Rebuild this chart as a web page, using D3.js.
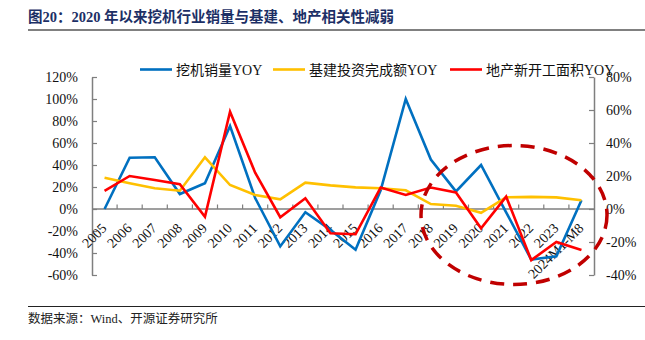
<!DOCTYPE html>
<html><head><meta charset="utf-8">
<script src="https://cdn.jsdelivr.net/npm/d3@7"></script>
<style>
body{margin:0;background:#fff;}
svg{display:block;}
text{font-family:"Liberation Serif","Noto Sans CJK SC",serif;}
</style></head>
<body><svg id="c" width="645" height="340"></svg>
<script>
const categories = ["2005","2006","2007","2008","2009","2010","2011","2012","2013","2014","2015","2016","2017","2018","2019","2020","2021","2022","2023","2024M1-M8"];
const excavatorYoy = [0,46.6,47,13.6,23.4,75.5,10,-34,-3,-19,-37,17,100,45,16,40,-3,-46,-43,8];
const infraYoy = [28.5,23.4,18.8,16.6,47,21.8,12.7,8.8,24,21.5,19.7,18.8,17,4.5,3,-3.4,10.6,11,10.6,8];
const realEstateYoy = [11,20,17.6,15,-4.7,59,22,-5,6.5,-14.7,-15.3,13,8.5,13,10,-11.7,7.5,-31,-20,-24.8];
const leftTicks = [-60,-40,-20,0,20,40,60,80,100,120];
const rightTicks = [-40,-20,0,20,40,60,80];
const seriesNames = ["挖机销量YOY","基建投资完成额YOY","地产新开工面积YOY"];
const colors = ["#0070C0","#FFC000","#FF0000"];
const title = "图20：2020 年以来挖机行业销量与基建、地产相关性减弱";
const source = "数据来源：Wind、开源证券研究所";

const svg = d3.select("#c");
const axisColor = "#7f7f7f";

// title
svg.append("text").attr("x",28).attr("y",22).attr("font-size",14.5).attr("font-weight","bold")
  .attr("fill","#1c2f66").text(title);
svg.append("line").attr("x1",28).attr("x2",645).attr("y1",30).attr("y2",30)
  .attr("stroke","#808080").attr("stroke-width",2);
// footer
svg.append("line").attr("x1",28).attr("x2",645).attr("y1",306.5).attr("y2",306.5)
  .attr("stroke","#222").attr("stroke-width",1);
svg.append("text").attr("x",28).attr("y",323).attr("font-size",12.5).attr("fill","#222").text(source);

const x = d3.scaleBand().domain(categories).range([92,594]).padding(0);
const yL = d3.scaleLinear().domain([-60,120]).range([275,77]);
const yR = d3.scaleLinear().domain([-40,80]).range([275,77]);
const cx = d => x(d) + x.bandwidth()/2;

// left axis
const gL = svg.append("g").attr("transform","translate(92,0)")
  .call(d3.axisLeft(yL).tickValues(leftTicks).tickFormat(d=>d+"%").tickSizeInner(-5).tickSizeOuter(0).tickPadding(14));
// right axis
const gR = svg.append("g").attr("transform","translate(594,0)")
  .call(d3.axisRight(yR).tickValues(rightTicks).tickFormat(d=>d+"%").tickSizeInner(-5).tickSizeOuter(0).tickPadding(12));
[gL,gR].forEach(g=>{
  g.select(".domain").attr("stroke",axisColor).attr("stroke-width",1.5);
  g.selectAll(".tick line").attr("stroke",axisColor).attr("stroke-width",1.2);
  g.selectAll(".tick text").attr("font-size",14).attr("fill","#111")
   .attr("font-family","Liberation Serif, serif");
});

// x axis at zero
const y0 = yL(0);
svg.append("line").attr("x1",92).attr("x2",594).attr("y1",y0).attr("y2",y0)
  .attr("stroke",axisColor).attr("stroke-width",1.5);
const bounds = categories.map(c=>x(c)).concat([x.range()[1]]);
svg.append("g").selectAll("line").data(bounds.slice(1,-1)).join("line")
  .attr("x1",d=>d).attr("x2",d=>d).attr("y1",y0).attr("y2",y0-4.5)
  .attr("stroke",axisColor).attr("stroke-width",1.2);
svg.append("g").selectAll("text").data(categories).join("text")
  .attr("transform",d=>`translate(${cx(d)+3},${y0+20}) rotate(-45)`)
  .attr("text-anchor","end").attr("font-size",14).attr("fill","#111").text(d=>d);

// lines
const lineL = d3.line().x((d,i)=>cx(categories[i])).y(d=>yL(d));
const lineR = d3.line().x((d,i)=>cx(categories[i])).y(d=>yR(d));
const drawn = [[excavatorYoy,lineL],[infraYoy,lineL],[realEstateYoy,lineR]];
drawn.forEach(([data,gen],k)=>{
  svg.append("path").datum(data).attr("d",gen).attr("fill","none")
    .attr("stroke",colors[k]).attr("stroke-width",2.6).attr("stroke-linejoin","miter");
});

// legend
const legX = [140,273,450];
seriesNames.forEach((n,k)=>{
  svg.append("line").attr("x1",legX[k]).attr("x2",legX[k]+32).attr("y1",69.5).attr("y2",69.5)
    .attr("stroke",colors[k]).attr("stroke-width",2.6);
  svg.append("text").attr("x",legX[k]+36).attr("y",75).attr("font-size",14).attr("fill","#111").text(n);
});

// highlight ellipse
svg.append("ellipse").attr("cx",514).attr("cy",215).attr("rx",93).attr("ry",69.5)
  .attr("fill","none").attr("stroke","#C00000").attr("stroke-width",3.5)
  .attr("stroke-dasharray","14,9");
</script></body></html>
